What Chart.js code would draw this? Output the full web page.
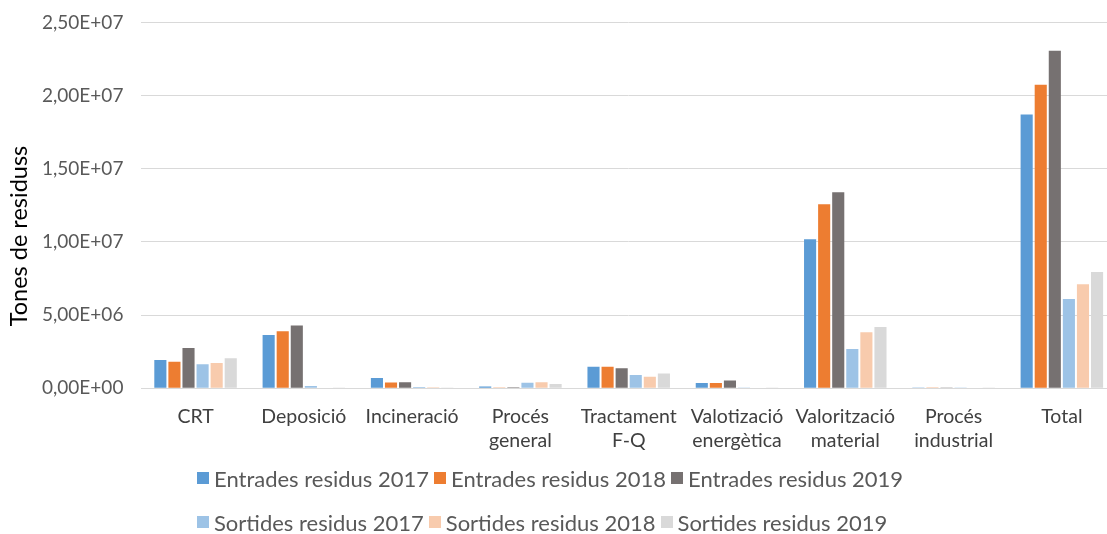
<!DOCTYPE html>
<html>
<head>
<meta charset="utf-8">
<script src="https://cdn.jsdelivr.net/npm/chart.js@4"></script>
<style>
    html, body { margin: 0; padding: 0; background: #fff; overflow: hidden; }
    #wrap { position: relative; width: 1116px; height: 468px; margin-top: -7px; }
    #legend { position: absolute; left: 197px; top: 456px; width: 900px; font-family: Lato, sans-serif; font-size: 22px; color: #595959; }
    .row { display: flex; height: 44px; align-items: center; }
    .item { display: flex; align-items: center; margin-right: 5px; white-space: nowrap; }
    .box { width: 12px; height: 12px; margin-right: 5px; }
</style>
</head>
<body>
<div id="wrap"><canvas id="myChart"></canvas></div>
<div id="legend"></div>
<script>
const categories = [
    "CRT",
    "Deposició",
    "Incineració",
    ["Procés", "general"],
    ["Tractament", "F-Q"],
    ["Valotizació", "energètica"],
    ["Valorització", "material"],
    ["Procés", "industrial"],
    "Total",
];

const entrades2017 = [1.93e6, 3.64e6, 7.0e5, 1.2e5, 1.46e6, 3.6e5, 1.018e7, 1.0e4, 1.87e7];
const entrades2018 = [1.80e6, 3.89e6, 3.9e5, 2.0e4, 1.46e6, 3.6e5, 1.257e7, 1.0e4, 2.074e7];
const entrades2019 = [2.75e6, 4.28e6, 4.0e5, 7.0e4, 1.37e6, 5.2e5, 1.339e7, 1.0e4, 2.307e7];
const sortides2017 = [1.64e6, 1.5e5, 9.0e4, 3.8e5, 9.1e5, 2.0e4, 2.68e6, 1.0e4, 6.1e6];
const sortides2018 = [1.73e6, 3.0e4, 7.0e4, 4.0e5, 7.9e5, 3.0e4, 3.82e6, 3.0e4, 7.1e6];
const sortides2019 = [2.05e6, 2.0e4, 5.0e4, 2.9e5, 1.0e6, 2.0e4, 4.19e6, 1.0e4, 7.95e6];

const yTicks = [0, 5e6, 1e7, 1.5e7, 2e7, 2.5e7];
const yTitle = "Tones de residuss";

const seriesNames = [
    "Entrades residus 2017",
    "Entrades residus 2018",
    "Entrades residus 2019",
    "Sortides residus 2017",
    "Sortides residus 2018",
    "Sortides residus 2019",
];
const seriesValues = [entrades2017, entrades2018, entrades2019, sortides2017, sortides2018, sortides2019];
const colors = ["#5B9BD5", "#ED7D31", "#767171", "#9DC3E6", "#F8CBAD", "#D9D9D9"];

function sci(v) {
    // 2.50e+7 -> 2,50E+07
    const parts = v.toExponential(2).split("e");
    let exp = parseInt(parts[1], 10);
    const sign = exp < 0 ? "-" : "+";
    exp = Math.abs(exp);
    return parts[0].replace(".", ",") + "E" + sign + (exp < 10 ? "0" : "") + exp;
}

// y axis title sits a bit below the middle of the axis, as in the original
const yTitlePlugin = {
    id: "yTitle",
    afterDraw(chart) {
        const c = chart.ctx;
        c.save();
        c.translate(19, 243);
        c.rotate(-Math.PI / 2);
        c.font = "23.5px Lato, sans-serif";
        c.fillStyle = "#000";
        c.textAlign = "center";
        c.textBaseline = "middle";
        c.fillText(yTitle, 0, 0);
        c.restore();
    },
};

const ctx = document.querySelector("#myChart");

const chart = new Chart(ctx, {
    type: "bar",
    data: {
        labels: categories,
        datasets: seriesNames.map((name, i) => ({
            label: name,
            data: seriesValues[i],
            backgroundColor: colors[i],
            borderWidth: 0,
            categoryPercentage: 0.78,
            barPercentage: 0.86,
        })),
    },
    options: {
        responsive: true,
        maintainAspectRatio: false,
        animation: false,
        layout: { padding: { top: 3, left: 24, right: 0, bottom: 0 } },
        plugins: {
            legend: { display: false },
            tooltip: { enabled: false },
        },
        scales: {
            x: {
                grid: { display: false },
                border: { display: true, color: "#D9D9D9", width: 1 },
                ticks: {
                    color: "#404040",
                    font: { family: "Lato, sans-serif", size: 19.5, lineHeight: 1.2 },
                    maxRotation: 0,
                    autoSkip: false,
                    padding: 9,
                },
            },
            y: {
                min: 0,
                max: 2.5e7,
                afterBuildTicks: (axis) => {
                    axis.ticks = yTicks.map((v) => ({ value: v }));
                },
                grid: { color: "#D9D9D9", lineWidth: 1, drawTicks: false },
                border: { display: false },
                ticks: {
                    color: "#595959",
                    font: { family: "Lato, sans-serif", size: 19 },
                    padding: 18,
                    callback: (v) => sci(v),
                },
            },
        },
    },
    plugins: [yTitlePlugin],
});

// legend in two rows of three, built from the chart's datasets
const legend = document.querySelector("#legend");
[[0, 1, 2], [3, 4, 5]].forEach((idx) => {
    const row = document.createElement("div");
    row.className = "row";
    idx.forEach((i) => {
        const ds = chart.data.datasets[i];
        const item = document.createElement("div");
        item.className = "item";
        const box = document.createElement("span");
        box.className = "box";
        box.style.background = ds.backgroundColor;
        const txt = document.createElement("span");
        txt.textContent = ds.label;
        item.appendChild(box);
        item.appendChild(txt);
        row.appendChild(item);
    });
    legend.appendChild(row);
});
</script>
</body>
</html>
